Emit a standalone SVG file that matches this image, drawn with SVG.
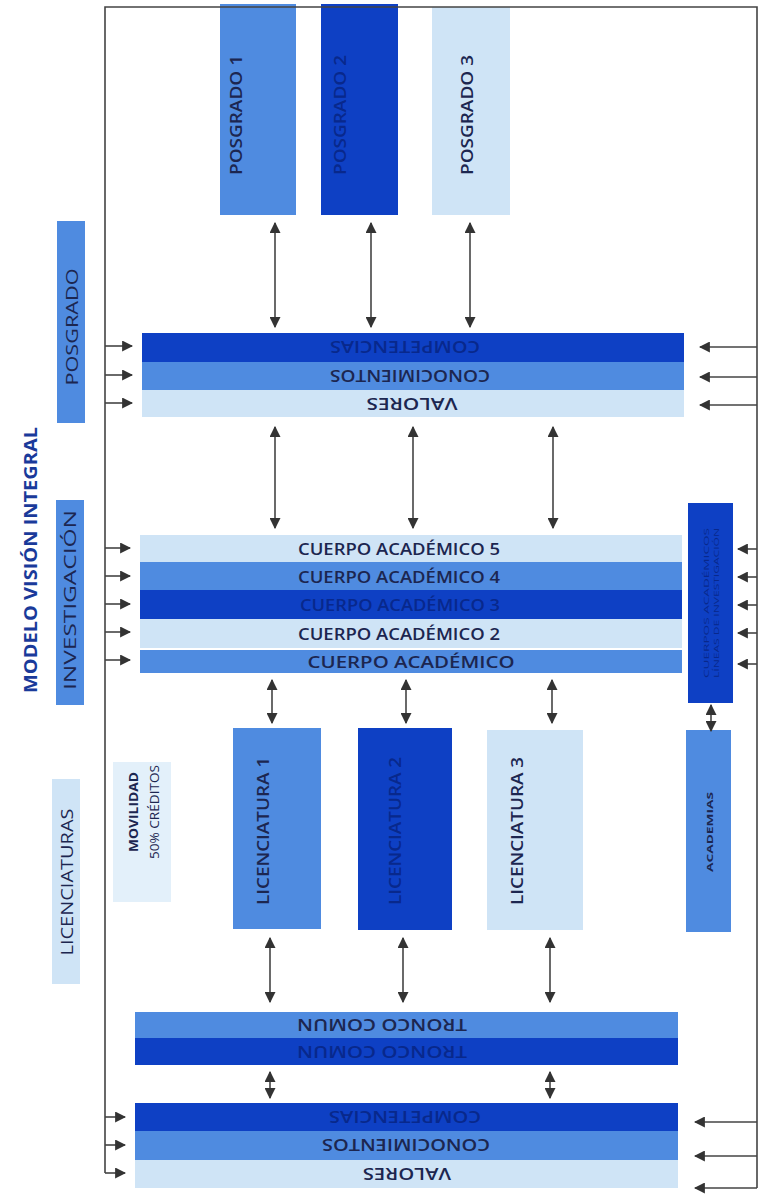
<svg xmlns="http://www.w3.org/2000/svg" width="761" height="1201" viewBox="0 0 761 1201">
<defs>
<marker id="ah" viewBox="0 0 10 10" refX="9" refY="5" markerWidth="11" markerHeight="11" markerUnits="userSpaceOnUse" orient="auto-start-reverse"><path d="M0,0 L10,5 L0,10 z" fill="#333"/></marker>
<style>
.dark{fill:#0e40c4}
.med{fill:#4f8be0}
.light{fill:#cfe4f6}
.pale{fill:#e3f0fa}
text{font-family:"Open Sans","Liberation Sans",sans-serif;fill:#1c2650}
.band{font-size:17px;font-weight:600;text-anchor:middle;dominant-baseline:central}
.ondark{fill:#08288c}
.vt{font-size:16px;font-weight:600;text-anchor:middle;dominant-baseline:central}
.c{stroke:#444;stroke-width:1.6;fill:none}
.dbl{marker-start:url(#ah);marker-end:url(#ah)}
.one{marker-end:url(#ah)}
</style>
</defs>
<rect width="761" height="1201" fill="#ffffff"/>

<g id="title">
<text x="30" y="560" transform="rotate(-90 30 560)" textLength="266" lengthAdjust="spacingAndGlyphs" style="font-size:17px;font-weight:bold;text-anchor:middle;dominant-baseline:central;fill:#1a3a9a">MODELO VISIÓN INTEGRAL</text>
</g>
<g id="label-posgrado"><rect x="57" y="221" width="28" height="202" class="med"/><text class="vt" x="72" y="327" transform="rotate(-90 72 327)" textLength="117" lengthAdjust="spacingAndGlyphs" style="font-weight:400">POSGRADO</text></g>
<g id="label-investigacion"><rect x="56" y="500" width="28" height="205" class="med"/><text class="vt" x="70" y="600" transform="rotate(-90 70 600)" textLength="180" lengthAdjust="spacingAndGlyphs" style="font-weight:400">INVESTIGACIÓN</text></g>
<g id="label-licenciaturas"><rect x="52" y="779" width="28" height="205" class="light"/><text class="vt" x="67" y="882" transform="rotate(-90 67 882)" textLength="147" lengthAdjust="spacingAndGlyphs" style="font-weight:400">LICENCIATURAS</text></g>

<g id="posgrado1"><rect x="220" y="4" width="76" height="211" class="med"/><text class="vt" x="236" y="115" transform="rotate(-90 236 115)" textLength="120" lengthAdjust="spacingAndGlyphs">POSGRADO 1</text></g>
<g id="posgrado2"><rect x="321" y="4" width="77" height="211" class="dark"/><text class="vt ondark" x="340" y="115" transform="rotate(-90 340 115)" textLength="120" lengthAdjust="spacingAndGlyphs">POSGRADO 2</text></g>
<g id="posgrado3"><rect x="432" y="7" width="78" height="208" class="light"/><text class="vt" x="467" y="115" transform="rotate(-90 467 115)" textLength="120" lengthAdjust="spacingAndGlyphs">POSGRADO 3</text></g>

<g id="pg-competencias"><rect x="142" y="333" width="542" height="29" class="dark"/><text class="band ondark" x="405" y="347" transform="rotate(180 405 347)" textLength="150" lengthAdjust="spacingAndGlyphs">COMPETENCIAS</text></g>
<g id="pg-conocimientos"><rect x="142" y="362" width="542" height="28" class="med"/><text class="band" x="410" y="376" transform="rotate(180 410 376)" textLength="160" lengthAdjust="spacingAndGlyphs">CONOCIMIENTOS</text></g>
<g id="pg-valores"><rect x="142" y="390" width="542" height="27" class="light"/><text class="band" x="412" y="404" transform="rotate(180 412 404)" textLength="91" lengthAdjust="spacingAndGlyphs">VALORES</text></g>

<g id="ca5"><rect x="140" y="535" width="542" height="27" class="light"/><text class="band" x="399" y="548" textLength="202" lengthAdjust="spacingAndGlyphs">CUERPO ACADÉMICO 5</text></g>
<g id="ca4"><rect x="140" y="562" width="542" height="28" class="med"/><text class="band" x="399" y="576" textLength="202" lengthAdjust="spacingAndGlyphs">CUERPO ACADÉMICO 4</text></g>
<g id="ca3"><rect x="140" y="590" width="542" height="29" class="dark"/><text class="band ondark" x="400" y="604" textLength="200" lengthAdjust="spacingAndGlyphs">CUERPO ACADÉMICO 3</text></g>
<g id="ca2"><rect x="140" y="619" width="542" height="29" class="light"/><text class="band" x="399" y="633" textLength="202" lengthAdjust="spacingAndGlyphs">CUERPO ACADÉMICO 2</text></g>
<g id="ca1"><rect x="140" y="650" width="542" height="23" class="med"/><text class="band" x="411" y="661" textLength="207" lengthAdjust="spacingAndGlyphs">CUERPO ACADÉMICO</text></g>

<g id="cuerpos-lineas"><rect x="688" y="503" width="45" height="200" class="dark"/>
<text x="706" y="603" transform="rotate(-90 706 603)" textLength="150" lengthAdjust="spacingAndGlyphs" style="font-size:7px;text-anchor:middle;dominant-baseline:central;fill:#08288c">CUERPOS ACADÉMICOS</text>
<text x="716" y="603" transform="rotate(-90 716 603)" textLength="150" lengthAdjust="spacingAndGlyphs" style="font-size:7px;text-anchor:middle;dominant-baseline:central;fill:#08288c">LÍNEAS DE INVESTIGACIÓN</text></g>
<g id="academias"><rect x="686" y="730" width="45" height="202" class="med"/><text x="709" y="832" transform="rotate(-90 709 832)" textLength="80" lengthAdjust="spacingAndGlyphs" style="font-size:9px;font-weight:bold;text-anchor:middle;dominant-baseline:central;fill:#1c2650">ACADEMIAS</text></g>

<g id="movilidad"><rect x="113" y="762" width="58" height="140" class="pale"/>
<text x="133" y="812" transform="rotate(-90 133 812)" textLength="80" lengthAdjust="spacingAndGlyphs" style="font-size:12px;font-weight:bold;text-anchor:middle;dominant-baseline:central;fill:#1c2650">MOVILIDAD</text>
<text x="154" y="812" transform="rotate(-90 154 812)" textLength="94" lengthAdjust="spacingAndGlyphs" style="font-size:12px;text-anchor:middle;dominant-baseline:central;fill:#1c2650">50% CRÉDITOS</text></g>

<g id="lic1"><rect x="233" y="728" width="88" height="201" class="med"/><text class="vt" x="263" y="831" transform="rotate(-90 263 831)" textLength="148" lengthAdjust="spacingAndGlyphs">LICENCIATURA 1</text></g>
<g id="lic2"><rect x="358" y="728" width="94" height="202" class="dark"/><text class="vt ondark" x="395" y="831" transform="rotate(-90 395 831)" textLength="148" lengthAdjust="spacingAndGlyphs">LICENCIATURA 2</text></g>
<g id="lic3"><rect x="487" y="730" width="96" height="200" class="light"/><text class="vt" x="517" y="831" transform="rotate(-90 517 831)" textLength="148" lengthAdjust="spacingAndGlyphs">LICENCIATURA 3</text></g>

<g id="tronco-a"><rect x="135" y="1012" width="543" height="26" class="med"/><text class="band" x="382" y="1025" transform="rotate(180 382 1025)" textLength="170" lengthAdjust="spacingAndGlyphs">TRONCO COMUN</text></g>
<g id="tronco-b"><rect x="135" y="1038" width="543" height="27" class="dark"/><text class="band ondark" x="382" y="1052" transform="rotate(180 382 1052)" textLength="170" lengthAdjust="spacingAndGlyphs">TRONCO COMUN</text></g>

<g id="lc-competencias"><rect x="135" y="1103" width="543" height="28" class="dark"/><text class="band ondark" x="405" y="1117" transform="rotate(180 405 1117)" textLength="152" lengthAdjust="spacingAndGlyphs">COMPETENCIAS</text></g>
<g id="lc-conocimientos"><rect x="135" y="1131" width="543" height="29" class="med"/><text class="band" x="406" y="1145" transform="rotate(180 406 1145)" textLength="168" lengthAdjust="spacingAndGlyphs">CONOCIMIENTOS</text></g>
<g id="lc-valores"><rect x="135" y="1160" width="543" height="28" class="light"/><text class="band" x="407" y="1174" transform="rotate(180 407 1174)" textLength="88" lengthAdjust="spacingAndGlyphs">VALORES</text></g>

<g id="connectors">
<path class="c" d="M105,1173 L105,7 L757,7 L757,1188"/>
<line class="c one" x1="105" y1="346" x2="132" y2="346"/>
<line class="c one" x1="105" y1="375" x2="132" y2="375"/>
<line class="c one" x1="105" y1="403" x2="132" y2="403"/>
<line class="c one" x1="757" y1="347" x2="700" y2="347"/>
<line class="c one" x1="757" y1="377" x2="700" y2="377"/>
<line class="c one" x1="757" y1="405" x2="700" y2="405"/>
<line class="c one" x1="105" y1="548" x2="130" y2="548"/>
<line class="c one" x1="105" y1="576" x2="130" y2="576"/>
<line class="c one" x1="105" y1="604" x2="130" y2="604"/>
<line class="c one" x1="105" y1="632" x2="130" y2="632"/>
<line class="c one" x1="105" y1="660" x2="130" y2="660"/>
<line class="c one" x1="757" y1="549" x2="738" y2="549"/>
<line class="c one" x1="757" y1="577" x2="738" y2="577"/>
<line class="c one" x1="757" y1="605" x2="738" y2="605"/>
<line class="c one" x1="757" y1="633" x2="738" y2="633"/>
<line class="c one" x1="757" y1="664" x2="738" y2="664"/>
<line class="c one" x1="105" y1="1117" x2="125" y2="1117"/>
<line class="c one" x1="105" y1="1145" x2="125" y2="1145"/>
<line class="c one" x1="105" y1="1173" x2="125" y2="1173"/>
<line class="c one" x1="757" y1="1122" x2="695" y2="1122"/>
<line class="c one" x1="757" y1="1156" x2="695" y2="1156"/>
<line class="c one" x1="757" y1="1188" x2="695" y2="1188"/>
<line class="c dbl" x1="275" y1="223" x2="275" y2="327"/>
<line class="c dbl" x1="371" y1="223" x2="371" y2="327"/>
<line class="c dbl" x1="470" y1="223" x2="470" y2="327"/>
<line class="c dbl" x1="275" y1="427" x2="275" y2="528"/>
<line class="c dbl" x1="413" y1="427" x2="413" y2="528"/>
<line class="c dbl" x1="553" y1="427" x2="553" y2="528"/>
<line class="c dbl" x1="272" y1="680" x2="272" y2="723"/>
<line class="c dbl" x1="406" y1="680" x2="406" y2="723"/>
<line class="c dbl" x1="552" y1="680" x2="552" y2="723"/>
<line class="c dbl" x1="711" y1="705" x2="711" y2="731"/>
<line class="c dbl" x1="270" y1="938" x2="270" y2="1002"/>
<line class="c dbl" x1="403" y1="938" x2="403" y2="1002"/>
<line class="c dbl" x1="550" y1="938" x2="550" y2="1002"/>
<line class="c dbl" x1="270" y1="1072" x2="270" y2="1098"/>
<line class="c dbl" x1="550" y1="1072" x2="550" y2="1098"/>
</g>
</svg>
